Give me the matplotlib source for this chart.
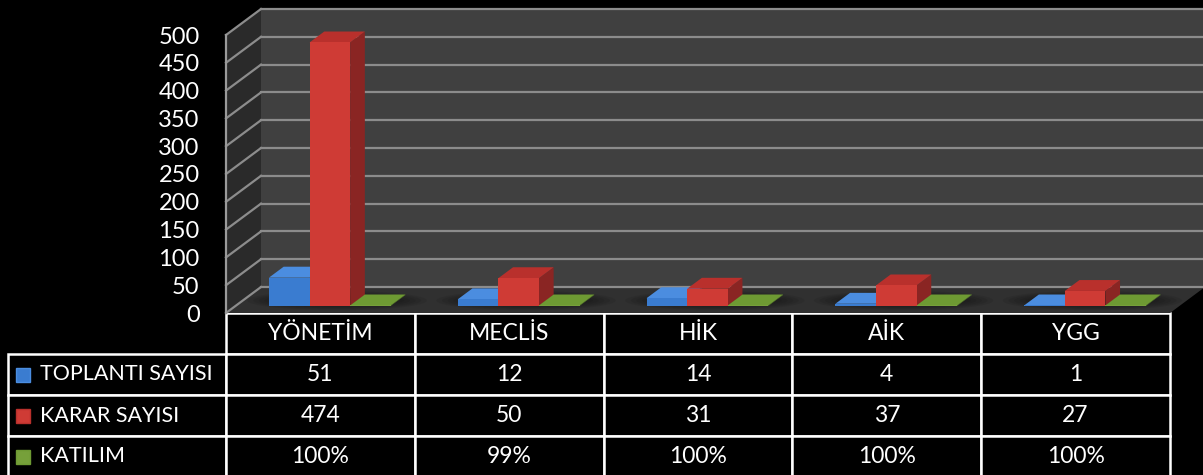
import numpy as np
import matplotlib.pyplot as plt
from matplotlib.patches import Polygon, Rectangle, Ellipse

categories = ['YÖNETİM', 'MECLİS', 'HİK', 'AİK', 'YGG']
series_names = ['TOPLANTI SAYISI', 'KARAR SAYISI', 'KATILIM']
toplanti = [51, 12, 14, 4, 1]
karar = [474, 50, 31, 37, 27]
katilim = [1.00, 0.99, 1.00, 1.00, 1.00]
yticks = [0, 50, 100, 150, 200, 250, 300, 350, 400, 450, 500]

front_cols = ['#3a7cd0', '#cf3b35', '#76a03a']
top_cols = ['#4b8de0', '#b9302c', '#6e9a33']
side_cols = ['#2b5c9c', '#8a2523', '#55782a']

plt.rcParams['font.family'] = ['Lato', 'DejaVu Sans']

W, H = 1203, 475
fig = plt.figure(figsize=(W / 100, H / 100), dpi=100, facecolor='black')
# front plane of the 3D box: x 226..1170 px, value 0 at y=313, 500 at y=35
ax = fig.add_axes([226 / W, (H - 313) / H, 944 / W, 278 / H])
ax.set_xlim(0, 5)
ax.set_ylim(0, 500)
ax.set_facecolor('none')
for s in ax.spines.values():
    s.set_visible(False)

# depth of the box in data units
DX = 35 / 944 * 5
DY = 26 / 278 * 500
n = len(categories)

# walls and floor
ax.add_patch(Polygon([(DX, DY), (n + DX, DY), (n + DX, 500 + DY), (DX, 500 + DY)],
                     fc='#404040', ec='none', clip_on=False, zorder=0))
ax.add_patch(Polygon([(0, 0), (DX, DY), (DX, 500 + DY), (0, 500)],
                     fc='#2a2a2a', ec='none', clip_on=False, zorder=0))
ax.add_patch(Polygon([(0, 0), (n, 0), (n + DX, DY), (DX, DY)],
                     fc='#303030', ec='none', clip_on=False, zorder=0.5))
for v in yticks:
    ax.plot([DX, n + DX], [v + DY, v + DY], color='#8c8c8c', lw=1.6, clip_on=False, zorder=1)
    ax.plot([0, DX], [v, v + DY], color='#8c8c8c', lw=1.6, clip_on=False, zorder=1)
ax.plot([0, 0], [0, 500], color='#9a9a9a', lw=1.6, clip_on=False, zorder=1)

# soft shadows under each group
for i in range(n):
    for k in range(6):
        ax.add_patch(Ellipse((i + 0.5 + 0.48 * DX, 0.48 * DY),
                             0.95 - k * 0.06, DY * (0.75 - k * 0.08), fc='black', alpha=0.07,
                             ec='none', clip_on=False, zorder=1.2))

# 3D bars
w = 0.215
f0, f1 = 0.27, 0.69
ddx, ddy = (f1 - f0) * DX, (f1 - f0) * DY
series = [toplanti, karar, katilim]
for k, vals in enumerate(series):
    for i, v in enumerate(vals):
        x0 = i + 0.5 + (k - 1) * w - w / 2 + f0 * DX
        b = f0 * DY
        z = 2 + i + k * 0.1
        ax.add_patch(Polygon([(x0 + w, b), (x0 + w + ddx, b + ddy), (x0 + w + ddx, b + v + ddy), (x0 + w, b + v)],
                             fc=side_cols[k], ec='none', clip_on=False, zorder=z))
        ax.add_patch(Polygon([(x0, b + v), (x0 + w, b + v), (x0 + w + ddx, b + v + ddy), (x0 + ddx, b + v + ddy)],
                             fc=top_cols[k], ec='none', clip_on=False, zorder=z))
        ax.bar(x0, v, width=w, bottom=b, align='edge', color=front_cols[k], zorder=z + 0.05)

ax.set_xticks([])
ax.set_yticks(yticks)
ax.set_yticklabels([str(t) for t in yticks])
ax.tick_params(axis='y', length=0, pad=19, labelcolor='white', labelsize=17)

# data table under the chart
cell_text = [[series_names[0]] + [str(v) for v in toplanti],
             [series_names[1]] + [str(v) for v in karar],
             [series_names[2]] + ['{:.0%}'.format(v) for v in katilim]]
lab_w = 218 / 944
col_w = 1 / n
tbl_h = (477 - 313) / 278
tbl = ax.table(cellText=cell_text, colLabels=[''] + categories, cellLoc='center',
               colWidths=[lab_w] + [col_w] * n,
               bbox=[-lab_w, -tbl_h, 1 + lab_w, tbl_h])
tbl.auto_set_font_size(False)
tbl.set_fontsize(16.5)
for (r, c), cell in tbl.get_celld().items():
    cell.set_facecolor('black')
    cell.set_edgecolor('white')
    cell.set_linewidth(1.8)
    cell.get_text().set_color('white')
    if c == 0:
        cell._loc = 'left'
        cell.PAD = 32 / 218
        cell.get_text().set_ha('left')
        cell.get_text().set_fontsize(15.5)
tbl[0, 0].visible_edges = 'open'

# legend keys in the label column
row_h = (477 - 313) / 4
for k in range(3):
    yc = 313 + row_h * (k + 1.5)
    fig.add_artist(Rectangle((16 / W, (H - yc - 7) / H), 14 / W, 14 / H,
                             transform=fig.transFigure, fc=front_cols[k], ec=top_cols[k], lw=1))

fig.savefig('out.png', dpi=100, facecolor='black')
